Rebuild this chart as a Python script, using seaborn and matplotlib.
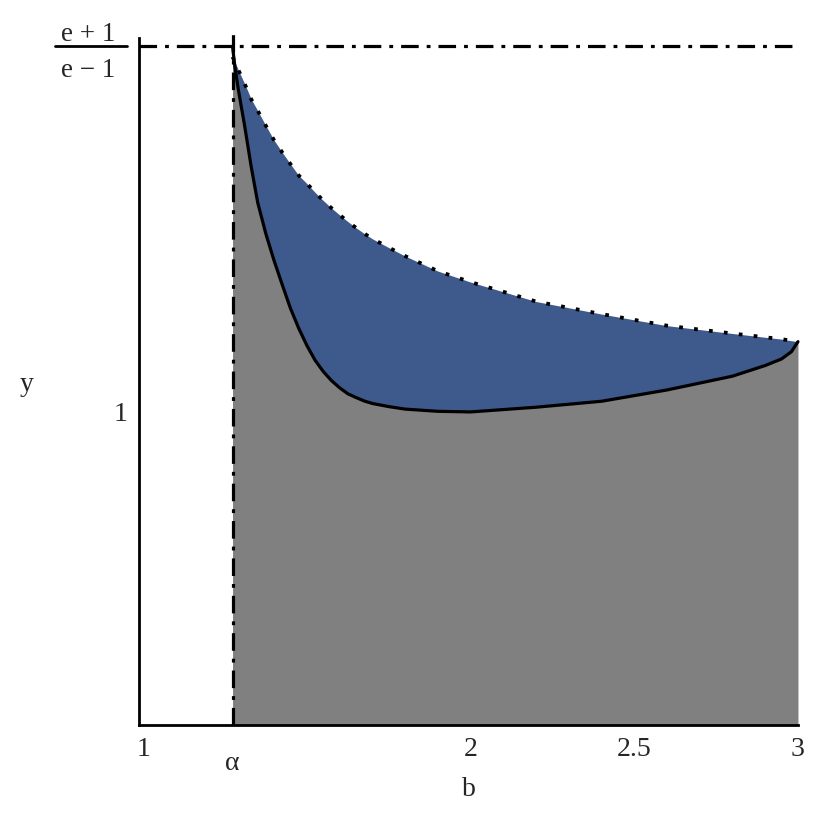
import numpy as np
import pandas as pd
import matplotlib
matplotlib.use("Agg")
import matplotlib.pyplot as plt
import matplotlib.transforms as mtransforms
import seaborn as sns

# dados
alpha = 1.273
y_top = (np.e + 1) / (np.e - 1)

b_vals = [1.273, 1.28, 1.29, 1.30, 1.31, 1.32, 1.33, 1.35, 1.375, 1.40, 1.425,
          1.45, 1.475, 1.50, 1.525, 1.55, 1.575, 1.60, 1.625, 1.65, 1.675, 1.70,
          1.75, 1.80, 1.90, 2.00, 2.20, 2.40, 2.60, 2.80, 2.90, 2.95, 2.98, 3.00]
curva_inf = [2.164, 2.10, 2.03, 1.97, 1.91, 1.845, 1.78, 1.665, 1.565, 1.48, 1.403,
             1.328, 1.265, 1.21, 1.163, 1.127, 1.098, 1.075, 1.056, 1.044, 1.033, 1.025,
             1.015, 1.007, 1.000, 0.998, 1.013, 1.032, 1.068, 1.112, 1.146, 1.167, 1.19, 1.222]
curva_sup = [2.13, 2.114, 2.09, 2.067, 2.044, 2.02, 1.995, 1.958, 1.91, 1.864, 1.825,
             1.788, 1.752, 1.726, 1.698, 1.672, 1.648, 1.626, 1.605, 1.585, 1.567, 1.55,
             1.522, 1.495, 1.447, 1.412, 1.35, 1.31, 1.273, 1.248, 1.236, 1.23, 1.225, 1.222]

xticks = [1, alpha, 2, 2.5, 3]
xtick_labels = ["1", "α", "2", "2.5", "3"]
yticks = [1, 2, y_top]
ytick_labels = ["1", "", ""]

df = pd.DataFrame({"b": b_vals, "inf": curva_inf, "sup": curva_sup})

sns.set_style("white")
plt.rcParams["font.family"] = ["Liberation Serif", "DejaVu Serif"]

fig = plt.figure(figsize=(8.17, 8.17), dpi=100)
ax = fig.add_axes([0.170, 0.1126, 0.8067, 0.8409])

# regioes preenchidas
ax.fill_between(df.b, 0, df.inf, color="#808080", lw=0)
ax.fill_between(df.b, df.inf, df.sup, color="#3e5a8c", lw=0)

# curvas
sns.lineplot(data=df, x="b", y="inf", color="black", lw=2.3, ax=ax, clip_on=False)
sns.lineplot(data=df, x="b", y="sup", color="black", lw=2.7, ax=ax, clip_on=False,
             dashes=False, linestyle=(0, (1.0, 3.0)))

# assintotas
ax.plot([0.987, 3], [y_top, y_top], color="black", lw=2.3,
        linestyle=(0, (5.5, 2.5, 1.2, 2.5)), clip_on=False)
ax.plot([alpha, alpha], [0, 2.21], color="black", lw=2.3,
        linestyle=(0, (5.5, 2.5, 1.2, 2.5)), clip_on=False)

ax.set_xlim(0.987, 3.0)
ax.set_ylim(0.0, 2.19)

for s in ["top", "right"]:
    ax.spines[s].set_visible(False)
for s in ["left", "bottom"]:
    ax.spines[s].set_color("black")
    ax.spines[s].set_linewidth(2.0)

ax.set_xticks(xticks)
ax.set_xticklabels(xtick_labels, fontsize=20)
ax.set_yticks(yticks)
ax.set_yticklabels(ytick_labels, fontsize=20)
ax.tick_params(axis="both", direction="out", length=4.5, width=1, color="#c8c8c8", pad=4)

# alfa um pouco mais baixo
lab = ax.get_xticklabels()[1]
lab.set_transform(lab.get_transform() + mtransforms.ScaledTranslation(0, -0.14, fig.dpi_scale_trans))

# rotulo (e+1)/(e-1) como fracao
ytr = ax.get_yaxis_transform()
ax.annotate("e + 1", xy=(-0.0766, y_top), xycoords=ytr, xytext=(0, 3.5),
            textcoords="offset points", ha="center", va="baseline", fontsize=19.5,
            annotation_clip=False)
ax.annotate("e \u2212 1", xy=(-0.0766, y_top), xycoords=ytr, xytext=(0, -22.5),
            textcoords="offset points", ha="center", va="baseline", fontsize=19.5,
            annotation_clip=False)
ax.plot([-0.1275, -0.018], [y_top, y_top], transform=ytr, color="black", lw=2.0,
        clip_on=False)

ax.set_xlabel("b", fontsize=20, va="center")
ax.xaxis.set_label_coords(0.5, -0.0946)
ax.set_ylabel("y", fontsize=20, rotation=0, va="center", ha="center")
ax.yaxis.set_label_coords(-0.17, 0.495)

fig.savefig("out.png", dpi=100)
